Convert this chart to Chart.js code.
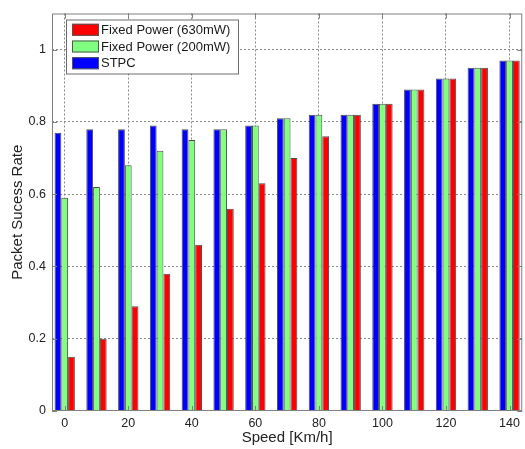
<!DOCTYPE html>
<html><head><meta charset="utf-8">
<script src="https://cdn.jsdelivr.net/npm/chart.js@4"></script>
<style>html,body{margin:0;padding:0;background:#fff}canvas{display:block}</style>
</head><body>
<canvas id="c" width="525" height="449"></canvas>
<script>
const speeds = [0,10,20,30,40,50,60,70,80,90,100,110,120,130,140];
const stpcRate = [0.77,0.78,0.78,0.79,0.78,0.78,0.79,0.81,0.82,0.82,0.85,0.89,0.92,0.95,0.97];
const fixed200Rate = [0.59,0.62,0.68,0.72,0.75,0.78,0.79,0.81,0.82,0.82,0.85,0.89,0.92,0.95,0.97];
const fixed630Rate = [0.15,0.20,0.29,0.38,0.46,0.56,0.63,0.70,0.76,0.82,0.85,0.89,0.92,0.95,0.97];
const xTickValues = [0,20,40,60,80,100,120,140];
const yTickValues = [0,0.2,0.4,0.6,0.8,1];
const seriesLabels = ['STPC','Fixed Power (200mW)','Fixed Power (630mW)'];
const seriesColors = ['#0000ff','#80ff80','#ff0000'];

const FONT = '"Liberation Sans", Arial, sans-serif';
const toPts = arr => speeds.map((s,i)=>({x:s, y:arr[i]}));

const framePlugin = {
  id:'frame',
  afterDraw(chart){
    const {ctx, chartArea:a, scales:{x,y}} = chart;
    ctx.save();
    ctx.strokeStyle = '#808080'; ctx.lineWidth = 1;
    ctx.strokeRect(a.left+0.5, a.top+0.5, a.right-a.left-1, a.bottom-a.top-1);
    ctx.beginPath();
    x.ticks.forEach(t=>{
      const px = Math.round(x.getPixelForValue(t.value))+0.5;
      ctx.moveTo(px, a.bottom); ctx.lineTo(px, a.bottom-5);
      ctx.moveTo(px, a.top); ctx.lineTo(px, a.top+5);
    });
    y.ticks.forEach(t=>{
      const py = Math.round(y.getPixelForValue(t.value))+0.5;
      ctx.moveTo(a.left, py); ctx.lineTo(a.left+5, py);
      ctx.moveTo(a.right, py); ctx.lineTo(a.right-5, py);
    });
    ctx.stroke();
    // legend (reverse order, inside top-left)
    const lx = a.left+14, ly = a.top+6, lw = 172, lh = 54;
    ctx.fillStyle = '#fff';
    ctx.fillRect(lx, ly, lw, lh);
    ctx.strokeStyle = '#6e6e6e';
    ctx.strokeRect(lx+0.5, ly+0.5, lw, lh);
    const ds = chart.data.datasets.slice().reverse();
    ctx.font = '13px ' + FONT;
    ctx.textBaseline = 'middle';
    ds.forEach((d,i)=>{
      const cy = ly + 10.3 + i*16.7;
      ctx.fillStyle = d.backgroundColor;
      ctx.fillRect(lx+6, cy-6, 27, 12);
      ctx.strokeStyle = '#555';
      ctx.strokeRect(lx+6.5, cy-5.5, 26, 11);
      ctx.fillStyle = '#1a1a1a';
      ctx.fillText(d.label, lx+35, cy+0.5);
    });
    ctx.restore();
  }
};

new Chart(document.getElementById('c'), {
  type:'bar',
  data:{
    datasets:[
      {label:seriesLabels[0], data:toPts(stpcRate), backgroundColor:seriesColors[0]},
      {label:seriesLabels[1], data:toPts(fixed200Rate), backgroundColor:seriesColors[1]},
      {label:seriesLabels[2], data:toPts(fixed630Rate), backgroundColor:seriesColors[2]}
    ]
  },
  options:{
    responsive:false,
    devicePixelRatio:1,
    animation:false,
    layout:{padding:{top:8,right:1,left:0,bottom:0}},
    datasets:{bar:{categoryPercentage:0.64, barPercentage:1, borderWidth:1, borderColor:'#4d4d4d'}},
    plugins:{legend:{display:false}, tooltip:{enabled:false}},
    scales:{
      x:{
        type:'linear', min:-4, max:144, offset:false,
        afterBuildTicks: s => { s.ticks = xTickValues.map(v=>({value:v})); },
        afterFit: s => { s.height = 38; },
        grid:{offset:false, drawTicks:false, color:'#8a8a8a', lineWidth:1},
        border:{display:false, dash:[2,2]},
        ticks:{padding:5, color:'#222', font:{family:FONT, size:12.5}, callback:v=>String(v), maxRotation:0},
        title:{display:true, text:'Speed [Km/h]', color:'#222', font:{family:FONT, size:15}, padding:{top:0,bottom:2}}
      },
      y:{
        min:0, max:1.1,
        afterBuildTicks: s => { s.ticks = yTickValues.map(v=>({value:v})); },
        afterFit: s => { s.width = 52; },
        grid:{drawTicks:false, lineWidth:1, color: c => (c.tick && c.tick.value === 0) ? 'rgba(0,0,0,0)' : '#8a8a8a'},
        border:{display:false, dash:[2,2]},
        ticks:{padding:6, color:'#222', font:{family:FONT, size:12.5}, callback:v=>String(Math.round(v*10)/10)},
        title:{display:true, text:'Packet Sucess Rate', color:'#222', font:{family:FONT, size:15}, padding:{top:9,bottom:0}}
      }
    }
  },
  plugins:[framePlugin]
});
</script>
</body></html>
